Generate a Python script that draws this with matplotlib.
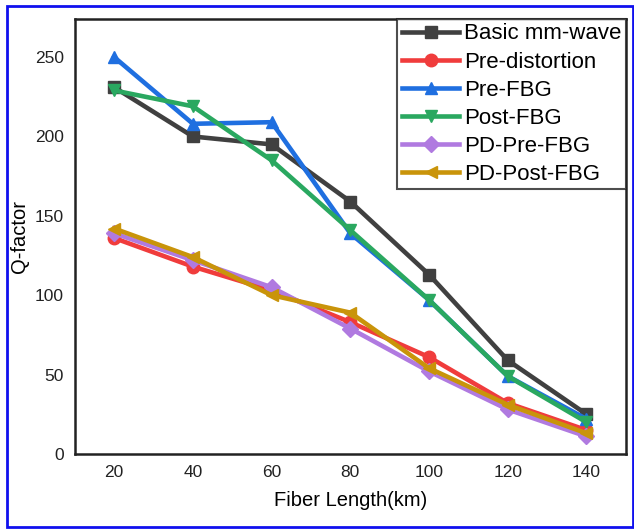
import matplotlib.pyplot as plt
from matplotlib.patches import Rectangle

plt.rcParams['font.family'] = ['Liberation Sans', 'DejaVu Sans']

# data
length_km = [20, 40, 60, 80, 100, 120, 140]
basic = [231, 200, 195, 159, 113, 59, 25]
pre_dist = [136, 118, 103, 83, 61, 32, 15]
pre_fbg = [250, 208, 209, 139, 97, 49, 22]
post_fbg = [229, 219, 185, 141, 97, 49, 20]
pd_pre_fbg = [139, 122, 105, 79, 52, 28, 11]
pd_post_fbg = [142, 124, 100, 89, 54, 31, 13]

series = [
    ("Basic mm-wave", basic, "#404040", "s"),
    ("Pre-distortion", pre_dist, "#f03c3c", "o"),
    ("Pre-FBG", pre_fbg, "#1f6fe0", "^"),
    ("Post-FBG", post_fbg, "#2aa860", "v"),
    ("PD-Pre-FBG", pd_pre_fbg, "#b07ae0", "D"),
    ("PD-Post-FBG", pd_post_fbg, "#c9940a", "<"),
]

fig = plt.figure(figsize=(6.34, 5.29), dpi=100)
ax = fig.add_axes([0.118, 0.142, 0.869, 0.822])

for name, vals, col, mk in series:
    ms = 9 if mk != "D" else 8
    ax.plot(length_km, vals, color=col, marker=mk, markersize=ms, lw=3.3, label=name)

ax.set_xlim(10, 150)
ax.set_ylim(0, 274)
ax.set_xticks(length_km)
ax.set_yticks([0, 50, 100, 150, 200, 250])
ax.tick_params(length=0, labelsize=12.5, pad=8, colors='#222222')
for sp in ax.spines.values():
    sp.set_linewidth(1.8)
    sp.set_color('#222222')
ax.set_xlabel("Fiber Length(km)", fontsize=14.5, labelpad=8)
ax.set_ylabel("Q-factor", fontsize=14.5, labelpad=4)

leg = ax.legend(loc='upper right', fontsize=16, frameon=True, fancybox=False,
                borderpad=0.2, labelspacing=0.32, handlelength=2.6, handletextpad=0.2,
                borderaxespad=0)
leg.get_frame().set_edgecolor('#222222')
leg.get_frame().set_linewidth(1.5)

# blue outer frame
fig.patches.append(Rectangle((0.011, 0.004), 0.988, 0.984, transform=fig.transFigure,
                             fill=False, edgecolor='#1010ee', lw=2))

fig.savefig("out.png", dpi=100)
